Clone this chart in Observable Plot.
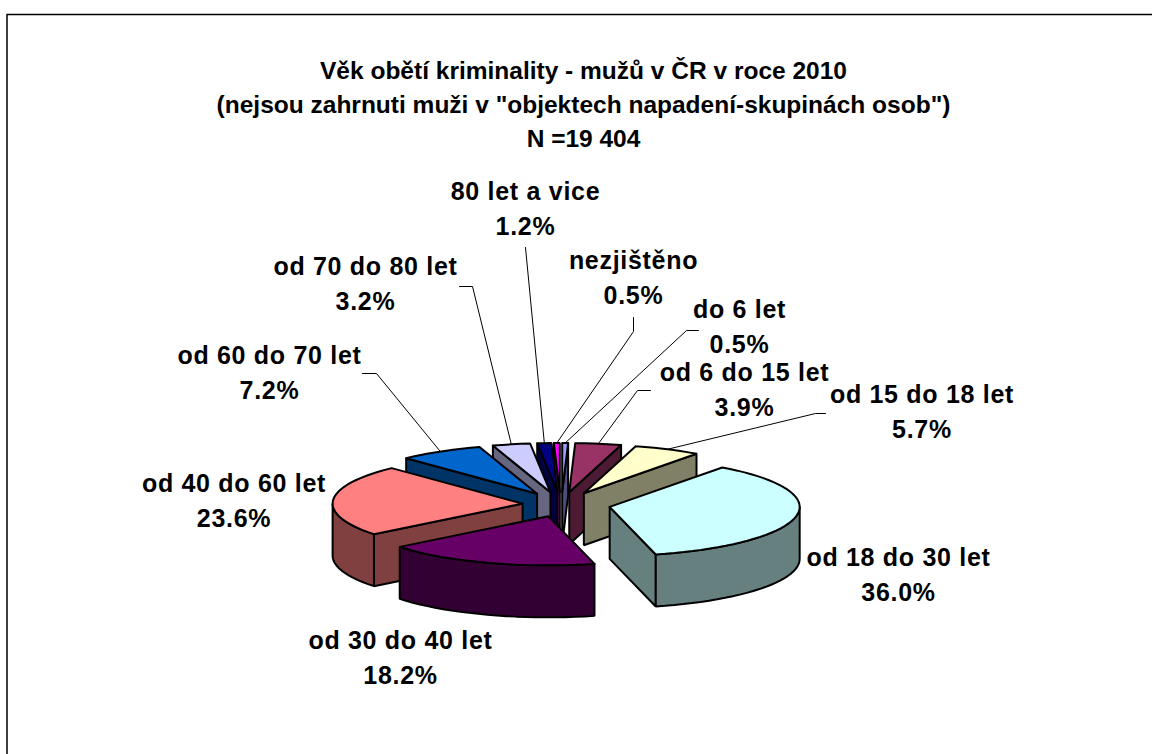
<!DOCTYPE html>
<html><head><meta charset="utf-8">
<script src="https://cdn.jsdelivr.net/npm/d3@7"></script>
<script src="https://cdn.jsdelivr.net/npm/@observablehq/plot@0.6"></script>
<style>
html,body{margin:0;padding:0;background:#fff}
svg{display:block}
.lab text{letter-spacing:.7px}
</style></head><body><div id="c"></div>
<script>
const categories=["do 6 let","od 6 do 15 let","od 15 do 18 let","od 18 do 30 let","od 30 do 40 let","od 40 do 60 let","od 60 do 70 let","od 70 do 80 let","80 let a vice","nezjištěno"];
const shares=[0.5,3.9,5.7,36.0,18.2,23.6,7.2,3.2,1.2,0.5];
const topColors=["#9999FF","#993366","#FFFFCC","#CCFFFF","#660066","#FF8080","#0066CC","#CCCCFF","#000080","#FF00FF"];
const wallColors=["#4D4D80","#4D1A33","#808066","#668080","#330033","#804040","#003366","#666680","#000040","#800080"];
const titleLines=["Věk obětí kriminality - mužů v ČR v roce 2010","(nejsou zahrnuti muži v \"objektech napadení-skupinách osob\")","N =19 404"];
// layout
const G={cx:565,cy:504,a:190,b:49,depth:52,ex:44,ey:12.5};
const nudge=[-4,-3,-1,1,-3,1,-6,-6,-5,-5];
const labelPos=[[739,323.5],[744,387],[921.5,409],[898,572],[400,655],[233.5,498],[269,370],[365,281],[525,206],[633,275]];
const elbows=[[[698,330],[686,330]],[[650,390],[637,390]],[[825,413],[815,413]],null,null,null,[[362,373],[376,373]],[[459,286],[472,286]],[[525,247]],[[633,317],[633,331]]];

const rad=d=>d*Math.PI/180;
let cum=0;
const slices=shares.map((s,i)=>{
  const a0=cum/100*360; cum+=s; const a1=cum/100*360; const mid=(a0+a1)/2;
  return {i,a0,a1,mid,ax:G.cx+G.ex*Math.sin(rad(mid))+nudge[i],ay:G.cy-G.ey*Math.cos(rad(mid))};
});
const rim=(s,t)=>[s.ax+G.a*Math.sin(rad(t)),s.ay-G.b*Math.cos(rad(t))];
const arc=(s,from,to)=>{const n=Math.max(2,Math.ceil((to-from)/3));return d3.range(n+1).map(k=>rim(s,from+(to-from)*k/n));};
const poly=(pts,fill)=>Plot.line([...pts,pts[0],pts[1]],{x:d=>d[0],y:d=>d[1],fill,stroke:"#000",strokeWidth:2,strokeLinejoin:"miter",curve:"linear"});
const drop=(pts)=>pts.map(p=>[p[0],p[1]+G.depth]).reverse();

const marks=[];
const order=[...slices].sort((p,q)=>p.ay-q.ay||Math.abs(p.mid-180)-Math.abs(q.mid-180));
for(const s of order){
  const w=wallColors[s.i], A=[s.ax,s.ay];
  if(s.a0>180){const e=[A,rim(s,s.a0)];marks.push(poly([...e,...drop(e)],w));}
  if(s.a1<180){const e=[A,rim(s,s.a1)];marks.push(poly([...e,...drop(e)],w));}
  const f=Math.max(s.a0,90),t=Math.min(s.a1,270);
  if(t>f){const r=arc(s,f,t);marks.push(poly([...r,...drop(r)],w));}
  marks.push(poly([A,...arc(s,s.a0,s.a1)],topColors[s.i]));
}
slices.forEach((s,i)=>{ if(elbows[i]){
  const tip=rim(s,s.mid);
  marks.push(Plot.line([...elbows[i],tip],{x:d=>d[0],y:d=>d[1],stroke:"#000",strokeWidth:1}));
}});
const labels=categories.map((c,i)=>({t:c+"\n"+shares[i].toFixed(1)+"%",x:labelPos[i][0],y:labelPos[i][1]}));
marks.push(Plot.text(labels,{x:"x",y:"y",text:"t",className:"lab",fontSize:25,fontWeight:"bold",fontFamily:"Liberation Sans",fill:"#000",lineHeight:1.4,textAnchor:"middle",lineAnchor:"middle"}));
marks.push(Plot.text([titleLines.join("\n")],{x:()=>583,y:()=>102,text:d=>d,fontSize:24.5,fontWeight:"bold",fontFamily:"Liberation Sans",fill:"#000",lineHeight:1.39,textAnchor:"middle",lineAnchor:"middle"}));
const frame=[[6.5,754],[6.5,14],[1152,14]];
marks.unshift(Plot.line(frame,{x:d=>d[0],y:d=>d[1],stroke:"#000",strokeWidth:1.5}));
const chart=Plot.plot({width:1152,height:754,margin:0,x:{domain:[0,1152],range:[0,1152],axis:null},y:{domain:[0,754],range:[0,754],axis:null},color:{type:"identity"},style:{background:"#fff",overflow:"hidden"},marks});
document.getElementById("c").append(chart);
</script></body></html>
